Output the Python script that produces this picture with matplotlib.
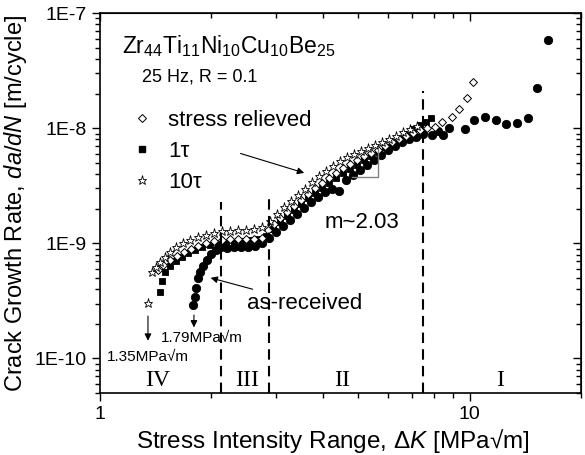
import matplotlib.pyplot as plt
from matplotlib.ticker import NullFormatter, LogLocator
from matplotlib.lines import Line2D

plt.rcParams['font.family'] = ['Liberation Sans', 'DejaVu Sans']
plt.rcParams['mathtext.fontset'] = 'custom'
plt.rcParams['mathtext.rm'] = 'Liberation Sans'
plt.rcParams['mathtext.it'] = 'Liberation Sans:italic'

# stress relieved (open diamonds)
dk_sr = [1.434, 1.480, 1.546, 1.615, 1.687, 1.762, 1.840, 1.934, 2.033, 2.136,
         2.245, 2.360, 2.480, 2.607, 2.741, 2.845, 2.953, 3.065, 3.201, 3.344,
         3.493, 3.648, 3.812, 3.981, 4.158, 4.343, 4.538, 4.740, 4.951, 5.171,
         5.401, 5.641, 5.892, 6.155, 6.429, 6.714, 7.014, 7.327, 7.653,
         8.04, 8.40, 8.94, 9.34, 9.82, 10.19]
rate_sr = [5.86e-10, 6.48e-10, 7.17e-10, 7.77e-10, 8.41e-10, 8.94e-10, 9.49e-10, 1.01e-9, 1.05e-9, 1.07e-9,
           1.09e-9, 1.09e-9, 1.09e-9, 1.09e-9, 1.11e-9, 1.31e-9, 1.48e-9, 1.66e-9, 1.88e-9, 2.12e-9,
           2.39e-9, 2.70e-9, 3.04e-9, 3.36e-9, 3.72e-9, 4.11e-9, 4.54e-9, 4.92e-9, 5.34e-9, 5.78e-9,
           6.14e-9, 6.52e-9, 7.07e-9, 7.66e-9, 8.13e-9, 8.64e-9, 9.17e-9, 9.74e-9, 1.014e-8,
           1.03e-8, 1.14e-8, 1.26e-8, 1.46e-8, 1.85e-8, 2.50e-8]

# 1 tau (filled squares)
dk_1t = [1.453, 1.471, 1.499, 1.546, 1.605, 1.666, 1.729, 1.806, 1.886, 1.983,
         2.084, 2.190, 2.302, 2.420, 2.543, 2.673, 2.810, 2.935, 3.065, 3.201,
         3.344, 3.493, 3.648, 3.812, 3.981, 4.158, 4.343, 4.538, 4.740, 4.951,
         5.171, 5.401, 5.641, 5.892, 6.155, 6.429, 6.714, 7.014, 7.327, 7.605, 7.846]
rate_1t = [3.77e-10, 4.70e-10, 5.63e-10, 6.35e-10, 7.02e-10, 7.61e-10, 8.25e-10, 8.76e-10, 9.30e-10, 9.68e-10,
           9.88e-10, 1.01e-9, 1.03e-9, 1.05e-9, 1.07e-9, 1.09e-9, 1.16e-9, 1.34e-9, 1.54e-9, 1.73e-9,
           1.96e-9, 2.21e-9, 2.49e-9, 2.75e-9, 3.04e-9, 3.36e-9, 3.72e-9, 4.11e-9, 4.45e-9, 4.83e-9,
           5.34e-9, 5.78e-9, 6.26e-9, 6.93e-9, 7.50e-9, 8.13e-9, 8.99e-9, 9.94e-9, 1.077e-8, 1.144e-8, 1.24e-8]

# 10 tau (open stars)
dk_10t = [1.348, 1.382, 1.417, 1.453, 1.499, 1.546, 1.605, 1.676, 1.751, 1.840,
          1.934, 2.033, 2.136, 2.245, 2.360, 2.480, 2.607, 2.741, 2.881, 3.008,
          3.142, 3.282, 3.428, 3.581, 3.741, 3.908, 4.081, 4.263, 4.453, 4.652,
          4.859, 5.075, 5.301, 5.537, 5.784, 6.041, 6.310, 6.591, 6.883, 7.191]
rate_10t = [3.02e-10, 5.63e-10, 6.22e-10, 6.88e-10, 7.61e-10, 8.41e-10, 9.30e-10, 1.01e-9, 1.07e-9, 1.14e-9,
            1.18e-9, 1.23e-9, 1.28e-9, 1.28e-9, 1.31e-9, 1.31e-9, 1.34e-9, 1.39e-9, 1.57e-9, 1.80e-9,
            2.08e-9, 2.34e-9, 2.64e-9, 2.98e-9, 3.43e-9, 3.87e-9, 4.28e-9, 4.73e-9, 5.23e-9, 5.67e-9,
            6.02e-9, 6.39e-9, 6.79e-9, 7.21e-9, 7.66e-9, 8.13e-9, 8.64e-9, 9.36e-9, 9.94e-9, 1.055e-8]

# as-received (filled circles)
dk_ar = [1.784, 1.806, 1.817, 1.840, 1.863, 1.898, 1.946, 1.995, 2.058, 2.123,
         2.204, 2.302, 2.405, 2.512, 2.624, 2.741, 2.863, 2.990, 3.122, 3.262,
         3.407, 3.559, 3.717, 3.884, 4.056, 4.236, 4.425, 4.623, 4.830, 5.044,
         5.268, 5.503, 5.748, 6.004, 6.271, 6.550, 6.841, 7.146, 7.464,
         7.89, 8.20, 8.45, 8.78, 9.69, 10.25, 10.98, 11.76, 12.51, 13.40, 14.35, 15.18, 16.25]
rate_ar = [2.90e-10, 3.41e-10, 4.08e-10, 4.99e-10, 5.63e-10, 6.35e-10, 7.17e-10, 8.08e-10, 8.76e-10, 9.30e-10,
           9.12e-10, 9.30e-10, 9.30e-10, 9.30e-10, 9.49e-10, 1.01e-9, 1.11e-9, 1.26e-9, 1.42e-9, 1.60e-9,
           1.80e-9, 2.04e-9, 2.30e-9, 2.54e-9, 2.81e-9, 2.98e-9, 2.86e-9, 3.57e-9, 3.95e-9, 4.36e-9,
           4.83e-9, 5.34e-9, 5.90e-9, 6.52e-9, 7.07e-9, 7.66e-9, 8.13e-9, 8.47e-9, 8.99e-9,
           8.81e-9, 9.55e-9, 8.81e-9, 1.01e-8, 9.93e-9, 1.17e-8, 1.26e-8, 1.17e-8, 1.10e-8, 1.12e-8, 1.22e-8, 2.26e-8, 5.81e-8]

# regime boundaries (x, top of dashed line)
bound_dk = [2.12, 2.86, 7.5]
bound_top = [2.3e-9, 2.75e-9, 2.1e-8]
regime_labels = ['IV', 'III', 'II', 'I']
regime_dk = [1.43, 2.50, 4.51, 12.08]

fig, ax = plt.subplots(figsize=(5.85, 4.55), dpi=100)
fig.subplots_adjust(left=0.171, right=0.993, bottom=0.136, top=0.971)
ax.set_xscale('log')
ax.set_yscale('log')
ax.set_xlim(1, 20)
ax.set_ylim(5e-11, 1e-7)

ax.plot(dk_1t, rate_1t, 's', color='black', ms=5, mew=0.6)
ax.plot(dk_ar, rate_ar, 'o', color='black', ms=6, mew=0.6)
ax.plot(dk_sr, rate_sr, 'D', mfc='white', mec='black', ms=4.5, mew=0.7)
ax.plot(dk_10t, rate_10t, '*', mfc='white', mec='black', ms=6.5, mew=0.6)

for xb, yt in zip(bound_dk, bound_top):
    ax.plot([xb, xb], [5e-11, yt], color='black', lw=1.5, ls=(0, (5, 3)))

for lab, xr in zip(regime_labels, regime_dk):
    ax.text(xr, 6.44e-11, lab, family='Liberation Serif', fontsize=17,
            ha='center', va='center')

# slope triangle
ax.plot([4.80, 5.641, 5.641], [3.79e-9, 3.79e-9, 6.52e-9], color='gray', lw=1)
ax.text(4.055, 1.51e-9, 'm~2.03', fontsize=16, va='center')

arrow = dict(arrowstyle='-|>', color='black', lw=0.8, mutation_scale=10)
ax.annotate('', xy=(3.627, 4.03e-9), xytext=(2.36, 6.14e-9), arrowprops=arrow)
ax.annotate('as-received', xy=(1.958, 5.09e-10), xytext=(2.496, 3.02e-10),
            fontsize=16, va='center', arrowprops=arrow)
ax.annotate('', xy=(1.348, 1.35e-10), xytext=(1.348, 2.47e-10), arrowprops=arrow)
ax.annotate('', xy=(1.795, 1.76e-10), xytext=(1.795, 2.52e-10), arrowprops=arrow)
ax.text(1.348, 1.04e-10, '1.35MPa√m', fontsize=11, ha='center', va='center')
ax.text(1.887, 1.50e-10, '1.79MPa√m', fontsize=11, ha='center', va='center')

ax.text(0.045, 0.914, r'Zr$_{44}$Ti$_{11}$Ni$_{10}$Cu$_{10}$Be$_{25}$',
        transform=ax.transAxes, fontsize=16.5, va='center')
ax.text(0.088, 0.832, '25 Hz, R = 0.1', transform=ax.transAxes, fontsize=13, va='center')

handles = [
    Line2D([], [], ls='none', marker='D', mfc='white', mec='black', ms=4.5, mew=0.7),
    Line2D([], [], ls='none', marker='s', color='black', ms=5),
    Line2D([], [], ls='none', marker='*', mfc='white', mec='black', ms=6.5, mew=0.6),
]
ax.legend(handles, ['stress relieved', '1τ', '10τ'], loc='upper left',
          bbox_to_anchor=(0.064, 0.746), frameon=False, fontsize=16,
          handlelength=1.0, handletextpad=0.67, labelspacing=0.46,
          borderpad=0, borderaxespad=0)

ax.set_xticks([1, 10])
ax.set_xticklabels(['1', '10'])
ax.set_yticks([1e-10, 1e-9, 1e-8, 1e-7])
ax.set_yticklabels(['1E-10', '1E-9', '1E-8', '1E-7'])
ax.xaxis.set_minor_locator(LogLocator(base=10, subs=range(2, 10)))
ax.yaxis.set_minor_locator(LogLocator(base=10, subs=range(2, 10)))
ax.xaxis.set_minor_formatter(NullFormatter())
ax.yaxis.set_minor_formatter(NullFormatter())
ax.tick_params(which='both', direction='out', labelsize=14, width=1)
ax.tick_params(which='major', length=6)
ax.tick_params(which='minor', length=3.5)

top = ax.secondary_xaxis('top')
top.set_xticks([1, 10])
top.xaxis.set_minor_locator(LogLocator(base=10, subs=range(2, 10)))
top.xaxis.set_major_formatter(NullFormatter())
top.xaxis.set_minor_formatter(NullFormatter())
top.tick_params(which='both', direction='in', width=1)
top.tick_params(which='major', length=6)
top.tick_params(which='minor', length=3.5)
right = ax.secondary_yaxis('right')
right.set_yticks([1e-10, 1e-9, 1e-8, 1e-7])
right.yaxis.set_minor_locator(LogLocator(base=10, subs=range(2, 10)))
right.yaxis.set_major_formatter(NullFormatter())
right.yaxis.set_minor_formatter(NullFormatter())
right.tick_params(which='both', direction='in', width=1)
right.tick_params(which='major', length=6)
right.tick_params(which='minor', length=3.5)

for sp in ax.spines.values():
    sp.set_linewidth(1.2)

ax.set_xlabel(r'Stress Intensity Range, $\mathit{\Delta K}$ [MPa√m]', fontsize=17.5)
ax.xaxis.set_label_coords(0.484, -0.088)
ax.set_ylabel(r'Crack Growth Rate, $\mathit{da/dN}$ [m/cycle]', fontsize=17, labelpad=4)

fig.savefig('out.png', dpi=100)
